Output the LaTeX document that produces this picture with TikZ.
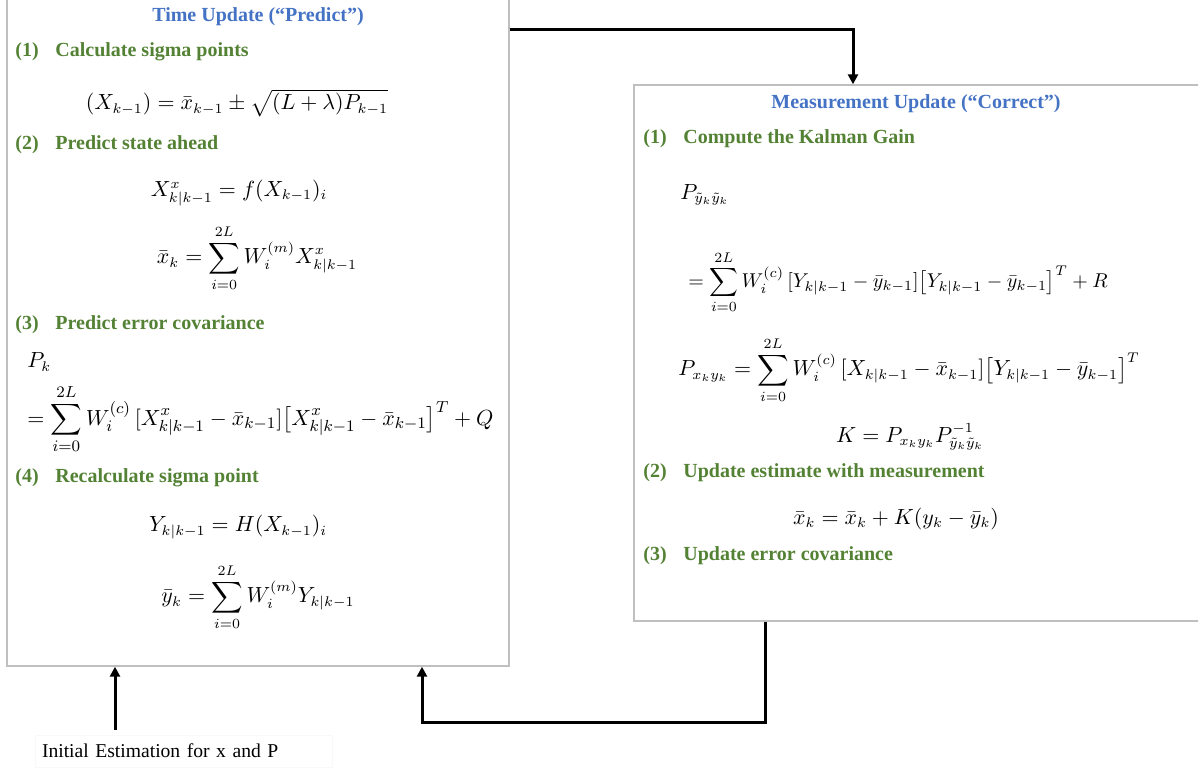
\documentclass[tikz,border=0pt]{standalone}
\usepackage{amsmath}
\usepackage{fontspec}
\setmainfont{Liberation Serif}
\usepackage{xcolor}
\usepackage{tikz}
\usetikzlibrary{arrows.meta}
\definecolor{ttlblue}{RGB}{68,114,196}
\definecolor{secgreen}{RGB}{84,130,53}

\begin{document}
\begin{tikzpicture}[x=0.5pt,y=-0.5pt,
  box/.style={draw=gray!50,line width=0.7pt,inner sep=0pt},
  ttl/.style={font=\bfseries\fontsize{10}{12}\selectfont,text=ttlblue},
  sec/.style={anchor=west,inner sep=0pt,font=\bfseries\fontsize{10}{12}\selectfont,text=secgreen},
  eq/.style={inner sep=0pt,font=\fontsize{10.7}{13}\selectfont},
  flow/.style={-{Triangle[length=5pt,width=5pt]},line width=1.5pt}]
  \useasboundingbox (0,0) rectangle (1198,769);
  % the two blocks, cut by the page edge
  \begin{scope}
    \clip (0,0) rectangle (1198,769);
    \node[box,minimum width=251pt,minimum height=335.5pt] (tu) at (258,330.5) {};
    \node[box,minimum width=288pt,minimum height=268pt] (mu) at (922,353) {};
  \end{scope}
  % Time update
  \node[ttl] (tuttl) at (258,17) {Time Update (“Predict”)};
  \node[sec] (s1) at (15,52) {\makebox[20pt][l]{(1)}Calculate sigma points};
  \node[eq] (e1) at (237,103) {$(X_{k-1}) = \bar{x}_{k-1} \pm \sqrt{(L+\lambda)P_{k-1}}$};
  \node[sec] (s2) at (15,145) {\makebox[20pt][l]{(2)}Predict state ahead};
  \node[eq] (e2) at (239,193) {$X^{x}_{k|k-1} = f(X_{k-1})_i$};
  \node[eq] (e3) at (257,258) {$\bar{x}_k = \displaystyle\sum_{i=0}^{2L} W_i^{(m)} X^{x}_{k|k-1}$};
  \node[sec] (s3) at (15,325) {\makebox[20pt][l]{(3)}Predict error covariance};
  \node[eq,anchor=west] (e4) at (27,362) {$P_k$};
  \node[eq,anchor=west,font=\fontsize{10.9}{13}\selectfont] (e5) at (27,419) {$= \displaystyle\sum_{i=0}^{2L} W_i^{(c)}\,[X^{x}_{k|k-1}-\bar{x}_{k-1}]\bigl[X^{x}_{k|k-1}-\bar{x}_{k-1}\bigr]^T + Q$};
  \node[sec] (s4) at (15,478) {\makebox[20pt][l]{(4)}Recalculate sigma point};
  \node[eq] (e6) at (238,527) {$Y_{k|k-1} = H(X_{k-1})_i$};
  \node[eq] (e7) at (258,597) {$\bar{y}_k = \displaystyle\sum_{i=0}^{2L} W_i^{(m)} Y_{k|k-1}$};
  % Measurement update
  \node[ttl] (muttl) at (916,104) {Measurement Update (“Correct”)};
  \node[sec] (m1) at (643,139) {\makebox[20pt][l]{(1)}Compute the Kalman Gain};
  \node[eq,anchor=west] (f1) at (680,195) {$P_{\tilde{y}_k\tilde{y}_k}$};
  \node[eq,anchor=west,font=\fontsize{10}{13}\selectfont] (f2) at (688,282) {$= \displaystyle\sum_{i=0}^{2L} W_i^{(c)}\,[Y_{k|k-1}-\bar{y}_{k-1}]\bigl[Y_{k|k-1}-\bar{y}_{k-1}\bigr]^T + R$};
  \node[eq,anchor=west] (f3) at (678,370) {$P_{x_ky_k} = \displaystyle\sum_{i=0}^{2L} W_i^{(c)}\,[X_{k|k-1}-\bar{x}_{k-1}]\bigl[Y_{k|k-1}-\bar{y}_{k-1}\bigr]^T$};
  \node[eq] (f4) at (910,437) {$K = P_{x_ky_k}P^{-1}_{\tilde{y}_k\tilde{y}_k}$};
  \node[sec] (m2) at (643,473) {\makebox[20pt][l]{(2)}Update estimate with measurement};
  \node[eq] (f5) at (896,519) {$\bar{x}_k = \bar{x}_k + K(y_k - \bar{y}_k)$};
  \node[sec] (m3) at (643,556) {\makebox[20pt][l]{(3)}Update error covariance};
  % start value
  \node[draw=gray!5,line width=0.5pt,inner xsep=3.5pt,text width=141.5pt,minimum height=16pt,
        align=left,font=\fontsize{9.8}{12}\selectfont] (init) at (183.5,751) {Initial Estimation for x and P};
  % loop
  \draw[flow] (tu.east |- 0,30) -| (853,0 |- mu.north);
  \draw[flow] (765,0 |- mu.south) -- (765,722) -- (422,722) -- (422,0 |- tu.south);
  \draw[flow] (init.north -| 115,0) ++(0,-5) -- (115,0 |- tu.south);
\end{tikzpicture}
\end{document}
